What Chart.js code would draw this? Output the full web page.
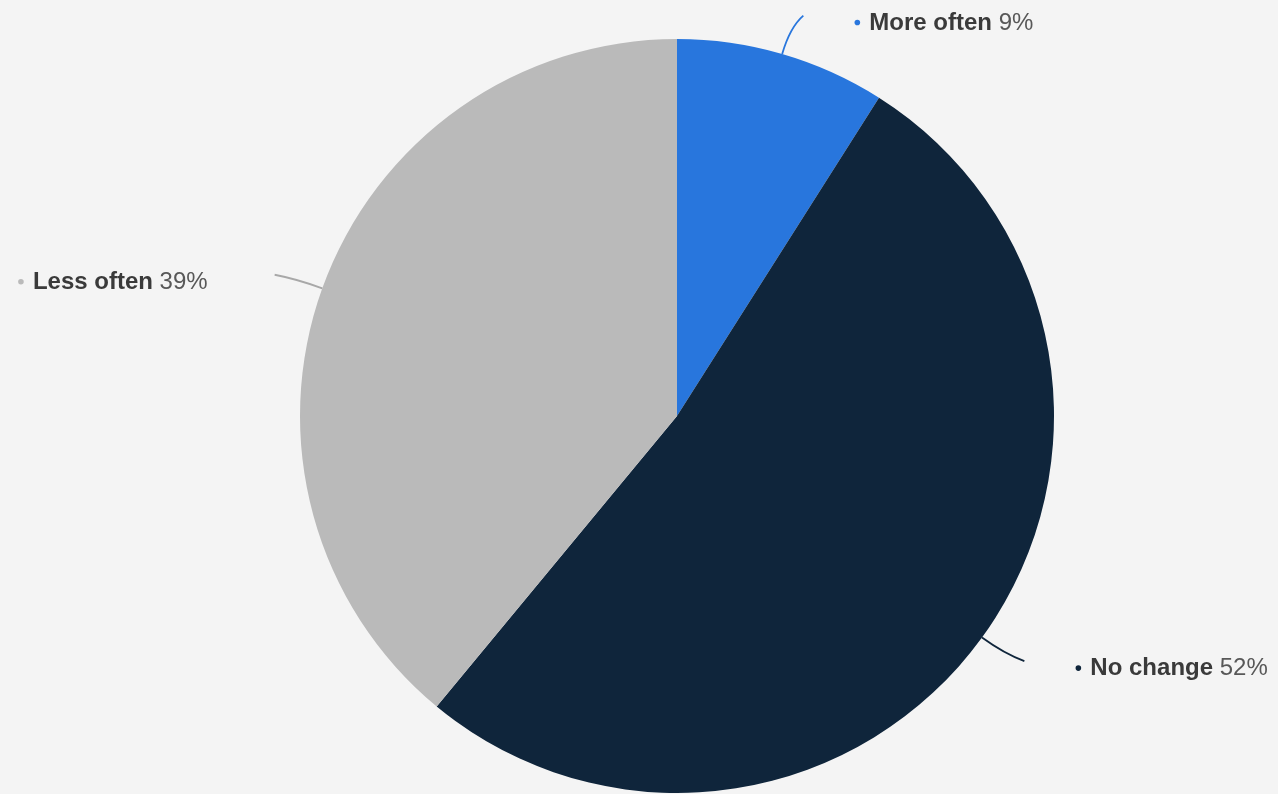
<!DOCTYPE html>
<html>
<head>
<meta charset="utf-8">
<script src="https://cdn.jsdelivr.net/npm/chart.js@4/dist/chart.umd.min.js"></script>
<style>
  html, body { margin: 0; padding: 0; background: #f4f4f4; }
  #wrap { width: 1278px; height: 794px; }
</style>
</head>
<body>
<div id="wrap"><canvas id="pie"></canvas></div>
<script>
const categories = ['More often', 'No change', 'Less often']
const shares = [9, 52, 39]
const sliceColors = ['#2876dd', '#0f253b', '#bababa']
const lineColors = ['#2876dd', '#0f253b', '#a8a8a8']

// leader lines + "• Name value%" labels, placed from each arc's middle angle
const pieLabels = {
  id: 'pieLabels',
  afterDatasetsDraw(chart) {
    const ctx = chart.ctx
    const arcs = chart.getDatasetMeta(0).data
    arcs.forEach((arc, i) => {
      const mid = (arc.startAngle + arc.endAngle) / 2
      const dx = Math.cos(mid), dy = Math.sin(mid)
      const r = arc.outerRadius
      const x0 = arc.x + dx * r, y0 = arc.y + dy * r
      const side = dx >= 0 ? 1 : -1
      const cx = x0 + dx * 28, cy = y0 + dy * 28
      const x1 = x0 + dx * 40 + side * 10, y1 = y0 + dy * 40

      ctx.save()
      ctx.strokeStyle = lineColors[i]
      ctx.lineWidth = 1.8
      ctx.beginPath()
      ctx.moveTo(x0, y0)
      ctx.quadraticCurveTo(cx, cy, x1, y1)
      ctx.stroke()

      const base = y1 + 14
      const name = categories[i]
      const val = ' ' + shares[i] + '%'
      ctx.font = 'bold 24px "Liberation Sans", Arial, sans-serif'
      const wName = ctx.measureText(name).width
      ctx.font = '24px "Liberation Sans", Arial, sans-serif'
      const wVal = ctx.measureText(val).width

      let tx
      if (side > 0) tx = x1 + 66
      else tx = x1 - 67 - wName - wVal

      ctx.fillStyle = sliceColors[i]
      ctx.beginPath()
      ctx.arc(tx - 12, base - 7, 2.8, 0, Math.PI * 2)
      ctx.fill()

      ctx.textBaseline = 'alphabetic'
      ctx.textAlign = 'left'
      ctx.font = 'bold 24px "Liberation Sans", Arial, sans-serif'
      ctx.fillStyle = '#3a3a3a'
      ctx.fillText(name, tx, base)
      ctx.font = '24px "Liberation Sans", Arial, sans-serif'
      ctx.fillStyle = '#585858'
      ctx.fillText(val, tx + wName, base)
      ctx.restore()
    })
  }
}

new Chart(
  document.getElementById('pie'),
  {
    type: 'pie',
    data: {
      labels: categories,
      datasets: [
        {
          data: shares,
          backgroundColor: sliceColors,
          borderWidth: 0,
        }
      ]
    },
    options: {
      responsive: true,
      maintainAspectRatio: false,
      animation: false,
      layout: { padding: { top: 39, bottom: 1, left: 300, right: 224 } },
      plugins: {
        legend: { display: false },
        tooltip: { enabled: false }
      }
    },
    plugins: [pieLabels]
  }
);
</script>
</body>
</html>
